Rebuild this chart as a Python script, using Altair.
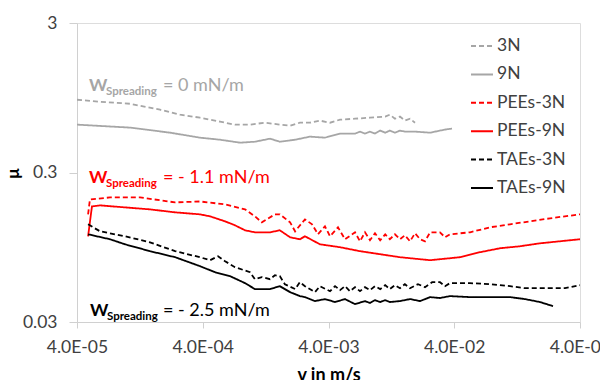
import altair as alt
import pandas as pd

series_names = ["3N", "9N", "PEEs-3N", "PEEs-9N", "TAEs-3N", "TAEs-9N"]
series_colors = ["#a6a6a6", "#a6a6a6", "#ff0000", "#ff0000", "#000000", "#000000"]
series_dash = [[5, 3], [1, 0], [5, 3], [1, 0], [5, 3], [1, 0]]

v_3N = [4.0e-5, 6.09e-5, 1.056e-4, 1.83e-4, 2.64e-4, 3.80e-4, 5.49e-4, 7.22e-4, 9.50e-4, 1.25e-3,
        1.64e-3, 1.98e-3, 2.37e-3, 2.85e-3, 3.42e-3, 4.11e-3, 4.94e-3, 6.50e-3, 8.55e-3, 1.13e-2,
        1.23e-2, 1.35e-2, 1.48e-2, 1.62e-2, 1.78e-2, 1.95e-2]
mu_3N = [0.920, 0.892, 0.865, 0.789, 0.731, 0.698, 0.656, 0.627, 0.627, 0.646,
         0.627, 0.617, 0.646, 0.646, 0.667, 0.646, 0.677, 0.687, 0.698, 0.709,
         0.731, 0.687, 0.709, 0.667, 0.687, 0.646]

v_9N = [4.0e-5, 1.056e-4, 2.20e-4, 3.80e-4, 5.49e-4, 7.91e-4, 1.04e-3, 1.37e-3, 1.64e-3, 2.17e-3,
        2.85e-3, 3.75e-3, 4.94e-3, 6.50e-3, 7.12e-3, 7.80e-3, 8.55e-3, 9.37e-3, 1.03e-2, 1.13e-2,
        1.23e-2, 1.35e-2, 1.48e-2, 1.62e-2, 1.95e-2, 2.57e-2, 3.38e-2, 3.84e-2]
mu_9N = [0.627, 0.599, 0.554, 0.513, 0.497, 0.475, 0.482, 0.505, 0.482, 0.497,
         0.521, 0.513, 0.546, 0.546, 0.563, 0.546, 0.563, 0.546, 0.572, 0.554,
         0.572, 0.554, 0.572, 0.563, 0.563, 0.554, 0.581, 0.590]

v_P3 = [4.90e-5, 5.07e-5, 7.32e-5, 1.268e-4, 2.41e-4, 3.80e-4, 6.02e-4, 8.67e-4, 1.04e-3, 1.18e-3,
        1.50e-3, 1.64e-3, 1.98e-3, 2.17e-3, 2.60e-3, 2.96e-3, 3.30e-3, 3.75e-3, 4.11e-3, 4.76e-3,
        5.41e-3, 6.50e-3, 7.12e-3, 7.80e-3, 8.55e-3, 9.37e-3, 1.03e-2, 1.13e-2, 1.23e-2, 1.35e-2,
        1.48e-2, 1.62e-2, 1.78e-2, 1.95e-2, 2.14e-2, 2.34e-2, 2.57e-2, 3.08e-2, 3.38e-2, 3.70e-2,
        5.34e-2, 7.70e-2, 0.111, 0.160, 0.231, 0.4]
mu_P3 = [0.1575, 0.1982, 0.2044, 0.2044, 0.1893, 0.192, 0.1836, 0.1700, 0.1527, 0.1393,
         0.1575, 0.1575, 0.1393, 0.1213, 0.1458, 0.1351, 0.1158, 0.1310, 0.1123, 0.1290,
         0.1073, 0.1194, 0.1040, 0.1194, 0.1057, 0.1176, 0.1057, 0.1158, 0.1073, 0.1158,
         0.1073, 0.1140, 0.1040, 0.1176, 0.1073, 0.1040, 0.1194, 0.1194, 0.1106, 0.1158,
         0.1194, 0.1290, 0.1351, 0.1414, 0.1481, 0.1575]

v_P9 = [4.90e-5, 5.26e-5, 6.09e-5, 9.63e-5, 1.523e-4, 2.41e-4, 3.80e-4, 4.57e-4, 6.02e-4, 7.22e-4,
        8.67e-4, 1.04e-3, 1.37e-3, 1.64e-3, 1.98e-3, 2.37e-3, 2.60e-3, 3.42e-3, 4.94e-3, 7.12e-3,
        1.03e-2, 1.48e-2, 2.14e-2, 2.57e-2, 3.08e-2, 3.70e-2, 4.44e-2, 6.41e-2, 9.24e-2, 0.133,
        0.192, 0.277, 0.4]
mu_P9 = [0.1123, 0.1780, 0.1808, 0.1753, 0.1700, 0.1624, 0.1575, 0.1527, 0.1414, 0.1330,
         0.1232, 0.1194, 0.1194, 0.1232, 0.1106, 0.1073, 0.1123, 0.0993, 0.0949, 0.0893,
         0.0852, 0.0814, 0.0789, 0.0777, 0.0789, 0.0801, 0.0814, 0.0879, 0.0934, 0.0963,
         0.1008, 0.1040, 0.1073]

v_T3 = [4.90e-5, 6.09e-5, 9.63e-5, 1.523e-4, 2.41e-4, 3.80e-4, 4.57e-4, 5.29e-4, 6.02e-4, 7.22e-4,
        9.50e-4, 1.04e-3, 1.18e-3, 1.37e-3, 1.50e-3, 1.64e-3, 1.80e-3, 2.17e-3, 2.37e-3, 2.60e-3,
        3.12e-3, 3.42e-3, 4.11e-3, 4.51e-3, 4.94e-3, 5.41e-3, 5.93e-3, 6.50e-3, 7.12e-3, 7.80e-3,
        8.55e-3, 9.37e-3, 1.03e-2, 1.13e-2, 1.23e-2, 1.35e-2, 1.48e-2, 1.62e-2, 1.78e-2, 2.06e-2,
        2.34e-2, 2.67e-2, 3.08e-2, 3.38e-2, 3.70e-2, 5.34e-2, 7.70e-2, 0.111, 0.146, 0.210,
        0.304, 0.4]
mu_T3 = [0.1351, 0.1213, 0.1123, 0.1024, 0.0893, 0.0814, 0.0777, 0.0826, 0.0765, 0.0698,
         0.0646, 0.0580, 0.0599, 0.0580, 0.0617, 0.0608, 0.0537, 0.0498, 0.0554, 0.0521,
         0.0475, 0.0521, 0.0482, 0.0521, 0.0490, 0.0521, 0.0482, 0.0513, 0.0482, 0.0513,
         0.0490, 0.0521, 0.0498, 0.0529, 0.0498, 0.0529, 0.0505, 0.0537, 0.0505, 0.0537,
         0.0513, 0.0554, 0.0554, 0.0521, 0.0546, 0.0546, 0.0537, 0.0521, 0.0505, 0.0505,
         0.0505, 0.0529]

v_T9 = [4.90e-5, 7.32e-5, 9.63e-5, 1.523e-4, 2.41e-4, 3.80e-4, 5.01e-4, 6.59e-4, 8.67e-4, 1.04e-3,
        1.37e-3, 1.64e-3, 1.98e-3, 2.37e-3, 2.60e-3, 3.12e-3, 3.75e-3, 4.51e-3, 5.41e-3, 6.50e-3,
        7.80e-3, 8.55e-3, 9.37e-3, 1.03e-2, 1.13e-2, 1.23e-2, 1.48e-2, 1.78e-2, 2.14e-2, 2.57e-2,
        3.08e-2, 3.70e-2, 5.34e-2, 7.70e-2, 0.111, 0.146, 0.192, 0.244]
mu_T9 = [0.1158, 0.1073, 0.0993, 0.0893, 0.0814, 0.0709, 0.0646, 0.0608, 0.0546, 0.0498,
         0.0498, 0.0521, 0.0475, 0.0447, 0.0440, 0.0414, 0.0427, 0.0408, 0.0427, 0.0395,
         0.0414, 0.0402, 0.0420, 0.0408, 0.0420, 0.0408, 0.0414, 0.0427, 0.0414, 0.0440,
         0.0434, 0.0447, 0.0440, 0.0440, 0.0440, 0.0427, 0.0408, 0.0383]

x_ticks = [4e-5, 4e-4, 4e-3, 4e-2, 4e-1]
y_ticks = [0.03, 0.3, 3]

all_series = [(series_names[0], v_3N, mu_3N), (series_names[1], v_9N, mu_9N),
              (series_names[2], v_P3, mu_P3), (series_names[3], v_P9, mu_P9),
              (series_names[4], v_T3, mu_T3), (series_names[5], v_T9, mu_T9)]
rows = []
for name, xs, ys in all_series:
    for i, (x, y) in enumerate(zip(xs, ys)):
        rows.append({"series": name, "v": x, "mu": y, "idx": i})
df = pd.DataFrame(rows)

FONT = "Lato"
TXT = "#404040"

legend = alt.Legend(orient="none", legendX=393, legendY=11, title=None, symbolType="stroke",
                    symbolSize=484, symbolStrokeWidth=2, labelFontSize=17.5, labelFont=FONT,
                    labelColor=TXT, rowPadding=7.4, labelOffset=3, padding=0)

lines = alt.Chart(df).mark_line(strokeWidth=1.8, clip=True).encode(
    x=alt.X("v:Q", scale=alt.Scale(type="log", domain=[4e-5, 0.4], nice=False),
            axis=alt.Axis(values=x_ticks,
                          labelExpr="'4.0E-0' + format(-round(log(datum.value/4)/LN10), 'd')",
                          title="v in m/s", grid=False, tickSize=6, labelPadding=10,
                          domainColor="#d0d0d0", tickColor="#d0d0d0", labelFont=FONT,
                          labelFontSize=17.5, labelColor=TXT, titleFont=FONT, titleFontSize=18,
                          titleFontWeight="bold", titleColor="#000000", titlePadding=11,
                          labelFlush=False, labelOverlap=False)),
    y=alt.Y("mu:Q", scale=alt.Scale(type="log", domain=[0.03, 3], nice=False),
            axis=alt.Axis(values=y_ticks, format="~g", title="μ", grid=False, tickSize=8,
                          labelPadding=12, domainColor="#d0d0d0", tickColor="#d0d0d0",
                          labelFont=FONT, labelFontSize=17.5, labelColor=TXT, titleFont=FONT,
                          titleFontSize=17, titleFontWeight="bold", titleColor="#000000",
                          titleX=-55, titleY=150, titleAngle=270, titleAlign="center",
                          titleBaseline="bottom", labelFlush=False)),
    color=alt.Color("series:N", scale=alt.Scale(domain=series_names, range=series_colors),
                    legend=legend),
    strokeDash=alt.StrokeDash("series:N", scale=alt.Scale(domain=series_names, range=series_dash),
                              legend=legend),
    detail="series:N",
    order="idx:Q",
)

def piece(text, x, y, size, weight, color):
    return alt.Chart(alt.Data(values=[{}])).mark_text(
        text=text, align="left", baseline="alphabetic", font=FONT, fontSize=size,
        fontWeight=weight, color=color).encode(x=alt.value(x), y=alt.value(y))

annotations = [
    ("#a6a6a6", "= 0 mN/m", 12, 68),
    ("#ff0000", "= - 1.1 mN/m", 12, 160),
    ("#000000", "= - 2.5 mN/m", 13, 293),
]
layers = [lines]
for color, rest, x0, base in annotations:
    layers.append(piece("W", x0, base, 17.5, "bold", color))
    layers.append(piece("Spreading", x0 + 17, base + 4, 11.5, "bold", color))
    layers.append(piece(rest, 86, base, 18, "normal", color))

chart = alt.layer(*layers).properties(
    width=503, height=299, autosize="none",
    padding={"left": 69, "top": 15, "right": 20, "bottom": 70},
).configure_view(stroke="#a0a0a0", strokeWidth=1).configure(background="white")

chart.save("out.html", embed_options={"renderer": "svg", "actions": False})
